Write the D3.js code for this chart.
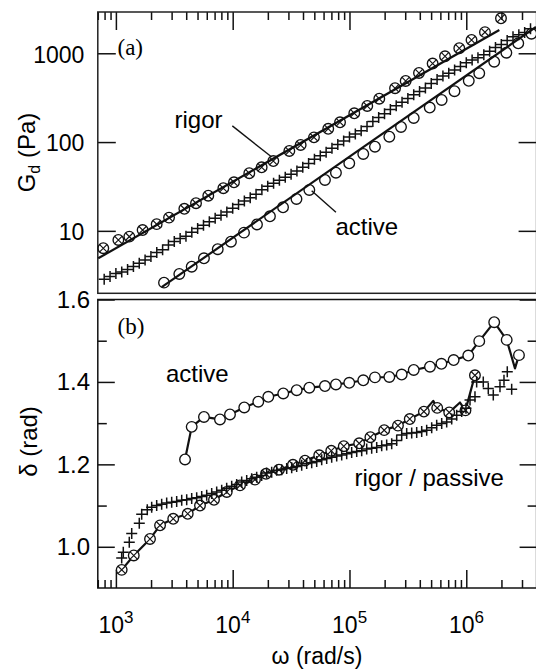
<!DOCTYPE html>
<html><head><meta charset="utf-8">
<script src="https://cdn.jsdelivr.net/npm/d3@7"></script>
<style>body{margin:0;background:#fff}svg{display:block}</style>
</head><body>
<svg id="c" width="536" height="669"></svg>
<script>
// ---------------- DATA ----------------
// Panel (a): modulus G_d (Pa) vs omega (rad/s)
const rigorTopOmega = [780,1050,1303,1694,2234,2851,3855,4853,6180,8318,10260,13870,17700,22280,30550,38190,49660,65770,82990,109900,141900,179900,245500,302700,393600,515200,657700,871000,1109000,1445000,1982000];
const rigorTopG = [6.37,7.89,8.61,10.2,11.9,14.1,17.7,20.5,24.9,30.2,35.2,44.6,52.0,61.2,79.4,92.7,113,141,167,211,255,308,404,488,600,767,925,1140,1413,1730,2477];
const activeTopOmega = [2582,3491,4457,5675,7447,9661,12500,16140,20840,26980,35160,45290,61660,76560,99540,131200,165200,219300,276100,354800,486400,615200,792500,1050000,1291000,1734000,2203000,2786000,3614000];
const activeTopG = [2.61,3.27,3.95,4.91,6.21,7.55,9.55,11.8,14.6,18.4,22.9,28.9,37.4,45.2,57.7,73.5,88.7,115,148,187,245,298,374,490,596,804,1014,1297,1660];
const passiveTopOmega = [794,891,1000,1122,1259,1413,1585,1778,1995,2239,2512,2818,3162,3548,3981,4467,5012,5623,6310,7079,7943,8913,10000,11220,12590,14130,15850,17780,19950,22390,25120,28180,31620,35480,39810,44670,50120,56230,63100,70790,79430,89130,100000,112200,125900,141300,158500,177800,199500,223900,251200,281800,316200,354800,398100,446700,501200,562300,631000,707900,794300,891300,1000000,1122000,1259000,1413000,1585000,1778000,1995000,2239000,2512000,2818000,3162000,3548000];
const passiveTopG = [2.85,3.06,3.30,3.44,3.67,3.96,4.32,4.71,5.15,5.69,6.14,6.95,7.59,8.18,8.71,9.62,10.6,11.6,12.7,13.9,15.0,16.3,18.0,19.8,21.7,23.6,25.8,29.0,31.8,34.4,37.2,40.1,43.3,47.2,52.0,57.5,64.0,70.0,76.6,85.3,94.0,103,114,123,134,150,171,189,209,233,257,280,309,341,372,406,456,507,553,597,649,711,780,838,893,964,1052,1161,1259,1393,1535,1614,1710,1884];
// power-law fit lines (end points)
const rigorFitOmega = [706,1919000];
const rigorFitG = [4.91,1828];
const activeFitOmega = [2466,3950000];
const activeFitG = [2.32,1977];

// Panel (b): phase delta (rad) vs omega (rad/s)
const activeDeltaOmega = [3908,4457,5675,7780,9480,12560,16560,20180,27100,35320,45290,61660,76560,99540,131200,165200,219300,279900,354800,488700,612400,779800,1040000,1291000,1734000,2218000,2825000];
const activeDelta = [1.212,1.291,1.315,1.309,1.321,1.338,1.352,1.364,1.372,1.380,1.386,1.390,1.394,1.398,1.404,1.411,1.412,1.418,1.429,1.437,1.444,1.453,1.464,1.499,1.545,1.502,1.465];
const activeLineOnlyOmega = [2612000];
const activeLineOnlyDelta = [1.433];
const rigorDeltaOmega = [1121,1422,1959,2388,3097,4121,5248,6918,8892,11550,15520,19280,24890,32810,41590,55080,69820,89330,121100,151000,198200,260000,328100,433500,563600,714500,984000,1186000];
const rigorDelta = [0.944,0.979,1.019,1.052,1.068,1.080,1.100,1.114,1.133,1.149,1.163,1.177,1.187,1.199,1.209,1.222,1.233,1.244,1.251,1.266,1.283,1.294,1.310,1.328,1.337,1.326,1.331,1.416];
const rigorLineOnlyOmega = [521200,883100];
const rigorLineOnlyDelta = [1.354,1.350];
const passiveDeltaOmega = [1121,1157,1302,1366,1586,1663,1857,2025,2235,2466,2722,3004,3315,3660,4039,4457,4918,5428,5990,6611,7295,8051,8884,9804,10820,11940,13180,14540,16050,17710,19550,21570,23810,26270,29000,32000,35310,38970,43010,47470,52390,57810,63800,70410,77710,85760,94630,104400,115300,127200,140400,154900,171000,188700,208200,229800,253600,279900,308900,340900,376200,415200,458100,505600,558000,615800,679600,749900,827700,913400,994000,1076000,1187000,1227000,1398000,1543000,1703000,1943000,2103000,2244000,2447000];
const passiveDelta = [0.973,0.987,1.011,1.032,1.057,1.079,1.090,1.096,1.100,1.103,1.106,1.108,1.110,1.113,1.114,1.117,1.119,1.122,1.125,1.129,1.133,1.137,1.142,1.147,1.151,1.157,1.161,1.165,1.169,1.173,1.179,1.181,1.186,1.187,1.190,1.192,1.195,1.198,1.202,1.204,1.207,1.211,1.214,1.217,1.220,1.223,1.226,1.229,1.231,1.233,1.237,1.239,1.241,1.245,1.247,1.250,1.258,1.271,1.275,1.276,1.277,1.280,1.283,1.289,1.295,1.299,1.303,1.310,1.319,1.328,1.336,1.356,1.364,1.400,1.400,1.384,1.368,1.388,1.404,1.425,1.382];

// ticks
const xMajorTicks = [1e3,1e4,1e5,1e6];
const xTickExponents = ["3","4","5","6"];
const xMinorTicks = [700,800,900,2e3,3e3,4e3,5e3,6e3,7e3,8e3,9e3,2e4,3e4,4e4,5e4,6e4,7e4,8e4,9e4,2e5,3e5,4e5,5e5,6e5,7e5,8e5,9e5,2e6,3e6];
const yTopTicks = [10,100,1000];
const yTopTickLabels = ["10","100","1000"];
const yBotMajorTicks = [1.0,1.2,1.4,1.6];
const yBotTickLabels = ["1.0","1.2","1.4","1.6"];
const yBotMinorTicks = [1.1,1.3,1.5];

// annotation leaders (data coords)
const rigorLeaderOmega = [9930,21580], rigorLeaderG = [152,67.9];
const activeLeaderOmega = [76560,47430], activeLeaderG = [16.2,28.3];

// ---------------- DRAW ----------------
const SANS = "'Liberation Sans', Arial, Helvetica, sans-serif";
const SERIF = "'Liberation Serif', 'Times New Roman', serif";
const svg = d3.select("#c");
const L = 97.8, R = 536.6;
const topT = 12, topB = 293.3, botT = 299.5, botB = 588;

const x = d3.scaleLog().domain([700, 4e6]).range([L, R]);
const yTop = d3.scaleLog().domain([1.98, 2917]).range([topB, topT]);
const yBot = d3.scaleLinear().domain([0.9, 1.6]).range([botB, botT]);

const zip = (a, b) => a.map((v, i) => [v, b[i]]);

function tickG(transform, axis) {
  const g = svg.append("g").attr("transform", transform).call(axis);
  g.select(".domain").remove();
  g.selectAll("text").remove();
  g.selectAll("line").attr("stroke", "#111").attr("stroke-width", 1.5);
  return g;
}
tickG(`translate(0,${topT})`, d3.axisTop(x).tickValues(xMajorTicks).tickSizeInner(-18).tickSizeOuter(0).tickFormat(""));
tickG(`translate(0,${topT})`, d3.axisTop(x).tickValues(xMinorTicks).tickSizeInner(-8).tickSizeOuter(0).tickFormat(""));
tickG(`translate(0,${botB})`, d3.axisBottom(x).tickValues(xMajorTicks).tickSizeInner(-18).tickSizeOuter(0).tickFormat(""));
tickG(`translate(0,${botB})`, d3.axisBottom(x).tickValues(xMinorTicks).tickSizeInner(-8).tickSizeOuter(0).tickFormat(""));
tickG(`translate(${L},0)`, d3.axisLeft(yTop).tickValues(yTopTicks).tickSizeInner(-18).tickSizeOuter(0).tickFormat(""));
tickG(`translate(${R},0)`, d3.axisRight(yTop).tickValues(yTopTicks).tickSizeInner(-18).tickSizeOuter(0).tickFormat(""));
tickG(`translate(${L},0)`, d3.axisLeft(yBot).tickValues(yBotMajorTicks).tickSizeInner(-17).tickSizeOuter(0).tickFormat(""));
tickG(`translate(${R},0)`, d3.axisRight(yBot).tickValues(yBotMajorTicks).tickSizeInner(-17).tickSizeOuter(0).tickFormat(""));
tickG(`translate(${L},0)`, d3.axisLeft(yBot).tickValues(yBotMinorTicks).tickSizeInner(-9).tickSizeOuter(0).tickFormat(""));
tickG(`translate(${R},0)`, d3.axisRight(yBot).tickValues(yBotMinorTicks).tickSizeInner(-9).tickSizeOuter(0).tickFormat(""));

svg.append("rect").attr("x", L).attr("y", topT).attr("width", R - L).attr("height", topB - topT)
  .attr("fill", "none").attr("stroke", "#222").attr("stroke-width", 1.5);
svg.append("rect").attr("x", L).attr("y", botT).attr("width", R - L).attr("height", botB - botT)
  .attr("fill", "none").attr("stroke", "#111").attr("stroke-width", 1.5);

svg.append("g").selectAll("text").data(yTopTicks).join("text")
  .attr("x", 84.3).attr("y", d => yTop(d) + 9.3).attr("text-anchor", "end")
  .attr("font-family", SANS).attr("font-size", 23).text((d, i) => yTopTickLabels[i]);
svg.append("g").selectAll("text").data(yBotMajorTicks).join("text")
  .attr("x", 90).attr("y", d => yBot(d) + 8.2).attr("text-anchor", "end")
  .attr("font-family", SANS).attr("font-size", 24).text((d, i) => yBotTickLabels[i]);
const xl = svg.append("g").selectAll("text").data(xMajorTicks).join("text")
  .attr("x", d => x(d) - 17.4).attr("y", 632.7)
  .attr("font-family", SANS).attr("font-size", 23);
xl.append("tspan").text("10");
xl.append("tspan").attr("font-size", 17).attr("dy", -9.4).text((d, i) => xTickExponents[i]);

svg.append("text").attr("x", 317).attr("y", 664).attr("text-anchor", "middle")
  .attr("font-family", SANS).attr("font-size", 23).text("ω (rad/s)");
const gt = svg.append("text").attr("transform", "translate(34.5,152.5) rotate(-90)")
  .attr("text-anchor", "middle").attr("font-family", SANS).attr("font-size", 24);
gt.append("tspan").text("G");
gt.append("tspan").attr("font-size", 16).attr("dy", 5).text("d");
gt.append("tspan").attr("dy", -5).text(" (Pa)");
svg.append("text").attr("transform", "translate(36.5,441.5) rotate(-90)")
  .attr("text-anchor", "middle").attr("font-family", SANS).attr("font-size", 24).text("δ (rad)");

svg.append("text").attr("x", 117.5).attr("y", 55).attr("font-family", SERIF).attr("font-size", 23).text("(a)");
svg.append("text").attr("x", 117.5).attr("y", 334).attr("font-family", SERIF).attr("font-size", 23).text("(b)");

function circles(data, sx, sy, fill) {
  svg.append("g").selectAll("circle").data(data).join("circle")
    .attr("cx", d => sx(d[0])).attr("cy", d => sy(d[1])).attr("r", 5.3)
    .attr("fill", fill).attr("stroke", "#111").attr("stroke-width", 1.35);
}
function otimes(data, sx, sy, fill) {
  const g = svg.append("g").selectAll("g").data(data).join("g")
    .attr("transform", d => `translate(${sx(d[0])},${sy(d[1])})`);
  g.append("circle").attr("r", 5.3).attr("fill", fill).attr("stroke", "#111").attr("stroke-width", 1.35);
  g.append("path").attr("d", "M-3.6,-3.6L3.6,3.6M-3.6,3.6L3.6,-3.6").attr("stroke", "#111").attr("stroke-width", 1.15);
}
function pluses(data, sx, sy) {
  svg.append("g").selectAll("path").data(data).join("path")
    .attr("transform", d => `translate(${sx(d[0])},${sy(d[1])})`)
    .attr("d", "M-5.5,0H5.5M0,-5.5V5.5").attr("fill", "none").attr("stroke", "#111").attr("stroke-width", 1.5);
}
function line(data, sx, sy, w) {
  svg.append("path").datum(data)
    .attr("d", d3.line().x(d => sx(d[0])).y(d => sy(d[1])))
    .attr("fill", "none").attr("stroke", "#111").attr("stroke-width", w).attr("stroke-linejoin", "round");
}

// ---- panel (a)
line(zip(rigorFitOmega, rigorFitG), x, yTop, 2.2);
line(zip(activeFitOmega, activeFitG), x, yTop, 2.2);
pluses(zip(passiveTopOmega, passiveTopG), x, yTop);
circles(zip(activeTopOmega, activeTopG), x, yTop, "none");
otimes(zip(rigorTopOmega, rigorTopG), x, yTop, "none");
line(zip(rigorLeaderOmega, rigorLeaderG), x, yTop, 1.4);
line(zip(activeLeaderOmega, activeLeaderG), x, yTop, 1.4);
svg.append("text").attr("x", 174.5).attr("y", 128).attr("font-family", SANS).attr("font-size", 24).text("rigor");
svg.append("text").attr("x", 335.5).attr("y", 234.5).attr("font-family", SANS).attr("font-size", 24).text("active");

// ---- panel (b)
const activeLine = zip(activeDeltaOmega, activeDelta).concat(zip(activeLineOnlyOmega, activeLineOnlyDelta)).sort((a, b) => a[0] - b[0]);
const rigorLine = zip(rigorDeltaOmega, rigorDelta).concat(zip(rigorLineOnlyOmega, rigorLineOnlyDelta)).sort((a, b) => a[0] - b[0]);
line(activeLine, x, yBot, 2.2);
line(rigorLine, x, yBot, 2.2);
circles(zip(activeDeltaOmega, activeDelta), x, yBot, "#fff");
otimes(zip(rigorDeltaOmega, rigorDelta), x, yBot, "#fff");
pluses(zip(passiveDeltaOmega, passiveDelta), x, yBot);
svg.append("text").attr("x", 166).attr("y", 381.7).attr("font-family", SANS).attr("font-size", 24).text("active");
svg.append("text").attr("x", 354.5).attr("y", 486).attr("font-family", SANS).attr("font-size", 24).text("rigor / passive");
</script>
</body></html>
